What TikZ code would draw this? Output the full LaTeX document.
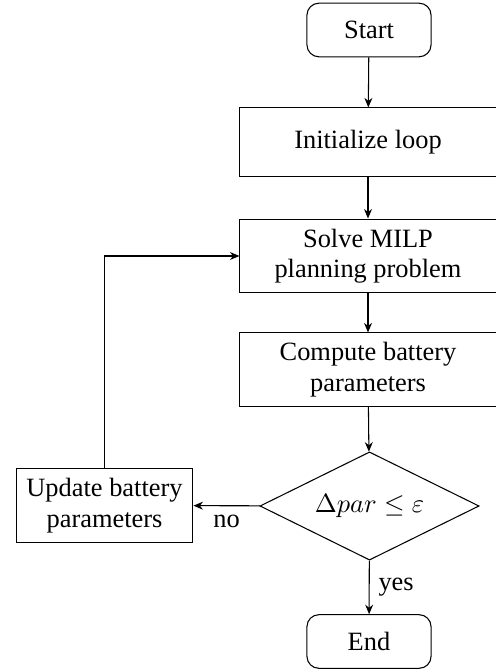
\documentclass[tikz,border=0pt]{standalone}
\usepackage{fontspec}
\setmainfont{Liberation Serif}
\usetikzlibrary{shapes.geometric,arrows.meta}
\begin{document}
\begin{tikzpicture}[x=0.3788pt,y=-0.3788pt,
  every node/.style={font=\fontsize{10pt}{11.5pt}\selectfont},
  procbox/.style={draw,rectangle,minimum width=97pt,minimum height=27.7pt,align=center,inner sep=1pt},
  termbox/.style={draw,rectangle,rounded corners=4.5pt,minimum width=47pt,minimum height=20.3pt,inner sep=1pt},
  decbox/.style={draw,diamond,aspect=2,minimum width=83pt,minimum height=41pt,inner sep=0pt},
  flow/.style={-{Stealth[length=3.6pt,width=3pt]},line width=0.4pt}]
\useasboundingbox (0,0) rectangle (496,672);
\node[termbox] (start) at (369,30) {Start};
\node[procbox,minimum height=25.8pt] (init) at (368,142) {Initialize loop};
\node[procbox,minimum height=28pt] (solve) at (368,256) {Solve MILP\\planning problem};
\node[procbox] (comp) at (368,369.5) {Compute battery\\parameters};
\node[decbox] (dec) at (369.5,506) {$\Delta par \leq \varepsilon$};
\node[procbox,minimum width=67pt] (upd) at (104.5,505.5) {Update battery\\parameters};
\node[termbox] (end) at (369,641.5) {End};
\draw[flow] (start) -- (init);
\draw[flow] (init) -- (solve);
\draw[flow] (solve) -- (comp);
\draw[flow] (comp) -- (dec);
\draw[flow] (dec) -- node[below] (nolab) {no} (upd);
\draw[flow] (dec) -- node[right] (yeslab) {yes} (end);
\draw[flow] (upd.north) |- (solve.west);
\end{tikzpicture}
\end{document}
